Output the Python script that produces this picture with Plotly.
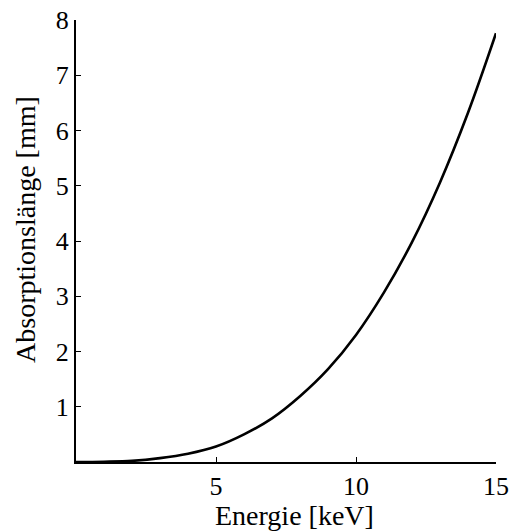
import plotly.graph_objects as go

# Absorption length versus photon energy
energy_kev = [0, 1, 2, 3, 4, 5, 6, 7, 8, 9, 10, 11, 12, 13, 14, 15]
absorption_mm = [0.0, 0.005, 0.02, 0.07, 0.15, 0.28, 0.5, 0.79, 1.19, 1.68,
                 2.3, 3.07, 3.98, 5.06, 6.32, 7.76]

x_ticks = [5, 10, 15]
y_ticks = [1, 2, 3, 4, 5, 6, 7, 8]

FONT = "Times New Roman, Liberation Serif, serif"

fig = go.Figure()
fig.add_trace(go.Scatter(
    x=energy_kev, y=absorption_mm, mode="lines",
    line=dict(color="black", width=2.6, shape="spline", smoothing=1.0),
    cliponaxis=False, showlegend=False,
))

axis_common = dict(
    showgrid=False, zeroline=False, showline=True, linecolor="black",
    linewidth=2, ticks="inside", ticklen=5, tickwidth=1, tickcolor="black",
    tickfont=dict(family=FONT, size=26, color="black"), automargin=False,
)

fig.update_xaxes(range=[0, 15], tickvals=x_ticks, **axis_common)
fig.update_yaxes(range=[0, 8], tickvals=y_ticks, **axis_common)

fig.add_annotation(text="Energie [keV]", xref="paper", yref="paper",
                   x=0.52, y=-0.16, xanchor="center", yanchor="bottom",
                   showarrow=False, font=dict(family=FONT, size=28, color="black"))
fig.add_annotation(text="Absorptionslänge [mm]", xref="paper", yref="paper",
                   x=-0.119, y=0.525, xanchor="center", yanchor="middle",
                   textangle=-90, showarrow=False,
                   font=dict(family=FONT, size=28, color="black"))

fig.update_layout(
    width=510, height=532,
    margin=dict(l=76, r=14, t=20, b=70),
    plot_bgcolor="white", paper_bgcolor="white",
)

fig.write_html("out.html")
